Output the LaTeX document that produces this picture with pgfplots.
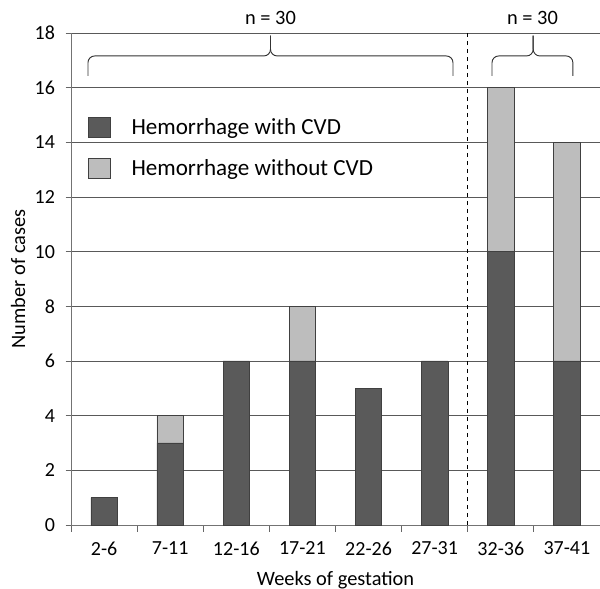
\documentclass[border=0pt]{standalone}
\usepackage{fontspec}
\setmainfont{Carlito}
\usepackage{pgfplots}
\pgfplotsset{compat=1.18}
\definecolor{darkbar}{HTML}{5A5A5A}
\definecolor{lightbar}{HTML}{BDBDBD}
\begin{document}
\begin{tikzpicture}
\begin{axis}[
  at={(0,0)}, anchor=south west,
  scale only axis, width=396.75pt, height=369pt,
  ybar stacked, bar width=0.4,
  xmin=-0.5, xmax=7.5, ymin=0, ymax=18,
  xtick={0,...,7},
  xticklabels={2-6,7-11,12-16,17-21,22-26,27-31,32-36,37-41},
  minor xtick={-0.5,0.5,...,7.5},
  ytick={0,2,...,18},
  axis x line*=bottom, axis y line*=left,
  axis line style={black!55, line width=0.6pt},
  tick align=outside,
  major x tick style={draw=none},
  minor x tick style={black!60, line width=0.6pt},
  minor tick length=5pt,
  major y tick style={black!60, line width=0.6pt},
  major tick length=4pt,
  ymajorgrids,
  grid style={black!65, line width=0.6pt},
  /pgf/number format/assume math mode=true,
  ticklabel style={font=\fontsize{15}{17}\selectfont},
  xticklabel style={yshift=-5pt},
  yticklabel style={xshift=-4.5pt},
  xlabel={Weeks of gestation},
  ylabel={Number of cases},
  every axis x label/.style={at={(axis description cs:0.5,0)}, yshift=-41.5pt, anchor=center, font=\fontsize{15.3}{18}\selectfont},
  every axis y label/.style={at={(axis description cs:0,0.5)}, xshift=-39.75pt, rotate=90, anchor=center, font=\fontsize{15.3}{18}\selectfont},
  clip=false,
  legend style={at={(axis description cs:0.032,0.833)}, anchor=north west, draw=none, fill=none,
    font=\fontsize{17.3}{20}\selectfont, row sep=13.5pt, inner sep=0pt},
  legend cell align=left,
  legend image code/.code={\draw[#1] (0pt,-7.5pt) rectangle (16.5pt,7.5pt);},
  legend style={nodes={inner xsep=15.5pt}},
]
\addplot[fill=darkbar, draw=black!75, line width=0.5pt] coordinates {(0,1) (1,3) (2,6) (3,6) (4,5) (5,6) (6,10) (7,6)};
\addplot[fill=lightbar, draw=black!75, line width=0.5pt] coordinates {(0,0) (1,1) (2,0) (3,2) (4,0) (5,0) (6,6) (7,8)};
\legend{Hemorrhage with CVD, Hemorrhage without CVD}
\draw[black, dashed, line width=0.6pt] (axis cs:5.5,0) -- (axis cs:5.5,18);
\draw[black!80, line width=0.7pt, rounded corners=5pt] (axis cs:-0.243,16.43) -- (axis cs:-0.243,17.16) -- (axis cs:2.517,17.16) -- (axis cs:2.517,17.9);
\draw[black!80, line width=0.7pt, rounded corners=5pt] (axis cs:5.277,16.43) -- (axis cs:5.277,17.16) -- (axis cs:2.517,17.16) -- (axis cs:2.517,17.9);
\draw[black!80, line width=0.7pt, rounded corners=5pt] (axis cs:5.867,16.43) -- (axis cs:5.867,17.16) -- (axis cs:6.49,17.16) -- (axis cs:6.49,17.9);
\draw[black!80, line width=0.7pt, rounded corners=5pt] (axis cs:7.09,16.43) -- (axis cs:7.09,17.16) -- (axis cs:6.49,17.16) -- (axis cs:6.49,17.9);
\node[anchor=base, font=\fontsize{15.3}{18}\selectfont] at (axis cs:2.517,18.3) {n = 30};
\node[anchor=base, font=\fontsize{15.3}{18}\selectfont] at (axis cs:6.48,18.3) {n = 30};
\end{axis}
\pgfresetboundingbox
\useasboundingbox (-53.25pt,-48pt) rectangle (396.75pt,393.75pt);
\end{tikzpicture}
\end{document}
